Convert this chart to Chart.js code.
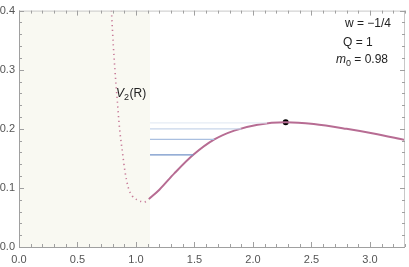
<!DOCTYPE html>
<html>
<head>
<meta charset="utf-8">
<script src="https://cdn.jsdelivr.net/npm/chart.js@4"></script>
<style>
  html, body { margin: 0; padding: 0; background: #fff; }
  #wrap { width: 409px; height: 267px; }
</style>
</head>
<body>
<div id="wrap"><canvas id="potChart"></canvas></div>
<script>
// V2(R) branch (dotted)
const dotR = [0.79, 0.807, 0.82, 0.835, 0.86, 0.884, 0.906, 0.935, 0.97, 1.02, 1.07, 1.11];
const dotV = [0.40, 0.339, 0.30, 0.261, 0.20, 0.161, 0.128, 0.10, 0.086, 0.079, 0.076, 0.081];

// solid branch
const solidR = [1.11, 1.2, 1.33, 1.49, 1.67, 1.84, 2.04, 2.28, 2.52, 2.80, 3.03, 3.3];
const solidV = [0.081, 0.097, 0.125, 0.156, 0.182, 0.197, 0.207, 0.211, 0.208, 0.200, 0.192, 0.181];

// horizontal levels
const levelV = [0.156, 0.182, 0.200, 0.210];
const levelEnd = [1.49, 1.67, 1.90, 2.12];
const levelColors = ['#7393c8', '#a9bfe0', '#c8d6ea', '#e6ecf5'];

// max point
const peakR = 2.28, peakV = 0.211;
const shadeEnd = 1.12;

const xTicks = [0.0, 0.5, 1.0, 1.5, 2.0, 2.5, 3.0];
const yTicks = [0.0, 0.1, 0.2, 0.3, 0.4];

const FONT = '"Liberation Sans", Arial, sans-serif';
const toPts = (xs, ys) => xs.map((x, i) => ({ x: x, y: ys[i] }));

const levelSets = levelV.map((v, i) => ({
  data: [{ x: shadeEnd, y: v }, { x: levelEnd[i], y: v }],
  showLine: true, borderColor: levelColors[i], borderWidth: 1.3, pointRadius: 0
}));

// draws "base" + subscript, returns end x
function subText(ctx, x, y, base, sub, italic) {
  ctx.font = (italic ? 'italic ' : '') + '12px ' + FONT;
  ctx.fillText(base, x, y);
  x += ctx.measureText(base).width;
  ctx.font = '9px ' + FONT;
  ctx.fillText(sub, x, y + 3);
  return x + ctx.measureText(sub).width;
}

// shaded region + inward frame ticks + labels
const decor = {
  id: 'decor',
  beforeDatasetsDraw(chart) {
    const { ctx, chartArea: a, scales: { x } } = chart;
    ctx.save();
    ctx.fillStyle = '#f9f9f2';
    ctx.fillRect(a.left, a.top, x.getPixelForValue(shadeEnd) - a.left, a.bottom - a.top);
    ctx.restore();
  },
  afterDraw(chart) {
    const { ctx, chartArea: a, scales: { x, y } } = chart;
    ctx.save();
    ctx.strokeStyle = '#a0a0a0';
    ctx.lineWidth = 1;
    ctx.beginPath();
    ctx.moveTo(a.left + 0.5, a.top); ctx.lineTo(a.left + 0.5, a.bottom + 0.5);
    ctx.lineTo(a.right, a.bottom + 0.5);
    ctx.stroke();
    ctx.strokeStyle = '#c8c8c8';
    ctx.beginPath();
    ctx.moveTo(a.left, a.top + 0.5); ctx.lineTo(a.right, a.top + 0.5);
    ctx.moveTo(a.right - 0.5, a.top); ctx.lineTo(a.right - 0.5, a.bottom);
    ctx.stroke();
    ctx.strokeStyle = '#a0a0a0';
    ctx.beginPath();
    for (let i = 0; i <= 33; i++) {
      const px = Math.round(x.getPixelForValue(i / 10)) + 0.5;
      const len = i % 5 === 0 ? 5 : 3;
      ctx.moveTo(px, a.bottom); ctx.lineTo(px, a.bottom - len);
      ctx.moveTo(px, a.top); ctx.lineTo(px, a.top + len);
    }
    for (let i = 0; i <= 20; i++) {
      const py = Math.round(y.getPixelForValue(i * 0.02)) + 0.5;
      const len = i % 5 === 0 ? 5 : 3;
      ctx.moveTo(a.left, py); ctx.lineTo(a.left + len, py);
      ctx.moveTo(a.right, py); ctx.lineTo(a.right - len, py);
    }
    ctx.stroke();

    ctx.fillStyle = '#222';
    ctx.textBaseline = 'alphabetic';

    // V2(R) label
    const lx = x.getPixelForValue(0.83), ly = y.getPixelForValue(0.253);
    const ex = subText(ctx, lx, ly, 'V', '2', true);
    ctx.font = '12px ' + FONT;
    ctx.fillText('(R)', ex + 0.5, ly);

    // parameters
    ctx.font = '12px ' + FONT;
    ctx.fillText('w = \u22121/4', 345, 27);
    ctx.fillText('Q = 1', 343, 46);
    const mx = subText(ctx, 336, 63, 'm', '0', true);
    ctx.font = '12px ' + FONT;
    ctx.fillText(' = 0.98', mx, 63);
    ctx.restore();
  }
};

new Chart(document.getElementById('potChart'), {
  type: 'scatter',
  data: {
    datasets: [
      ...levelSets,
      {
        data: toPts(dotR, dotV), showLine: true, borderColor: '#c77a98',
        borderWidth: 1.6, borderDash: [1.2, 3.6], cubicInterpolationMode: 'monotone',
        pointRadius: 0
      },
      {
        data: toPts(solidR, solidV), showLine: true, borderColor: '#b76c93',
        borderWidth: 2, cubicInterpolationMode: 'monotone', pointRadius: 0
      },
      {
        data: [{ x: peakR, y: peakV }], pointRadius: 3,
        pointBackgroundColor: '#000', pointBorderWidth: 0
      }
    ]
  },
  options: {
    responsive: true,
    maintainAspectRatio: false,
    animation: false,
    layout: { padding: { top: 7, right: 1, left: 0, bottom: 0 } },
    plugins: { legend: { display: false }, tooltip: { enabled: false } },
    scales: {
      x: {
        type: 'linear', min: 0, max: 3.3,
        afterBuildTicks(s) { s.ticks = xTicks.map(v => ({ value: v })); },
        afterFit(s) { s.height = 20; },
        grid: { display: false, drawTicks: false },
        border: { display: false },
        ticks: {
          color: '#555', padding: 6,
          font: { size: 11, family: FONT },
          callback: v => v.toFixed(1), maxRotation: 0
        }
      },
      y: {
        type: 'linear', min: 0, max: 0.4,
        afterBuildTicks(s) { s.ticks = yTicks.map(v => ({ value: v })); },
        afterFit(s) { s.width = 19; },
        grid: { display: false, drawTicks: false },
        border: { display: false },
        ticks: {
          color: '#555', padding: 4,
          font: { size: 11, family: FONT },
          callback: v => v.toFixed(1)
        }
      }
    }
  },
  plugins: [decor]
});
</script>
</body>
</html>
